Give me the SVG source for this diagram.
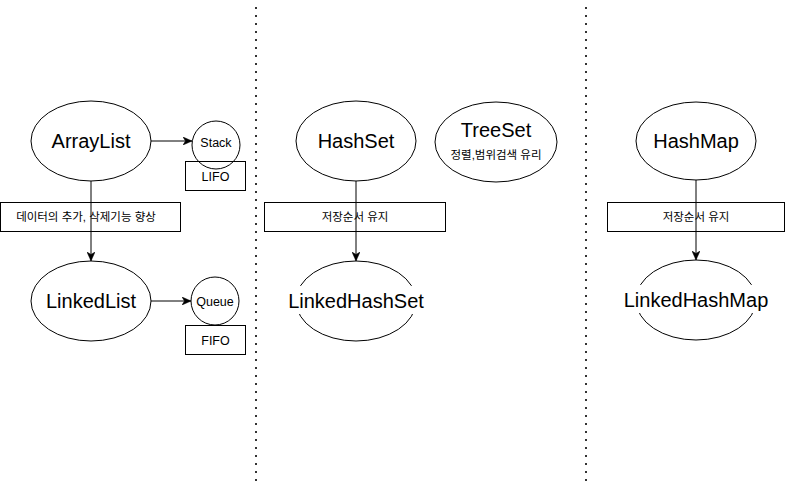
<svg xmlns="http://www.w3.org/2000/svg" width="787" height="483" viewBox="0 0 787 483">
<style>
  .sh { fill: #fff; stroke: #000; stroke-width: 1; }
  .box { fill: none; stroke: #000; stroke-width: 1; }
  .big { font-family: "Liberation Sans", Arial, sans-serif; font-size: 20px; fill: #000; text-anchor: middle; }
  .small { font-family: "Liberation Sans", Arial, sans-serif; font-size: 12.5px; fill: #000; text-anchor: middle; }
  .ko { font-family: "Liberation Sans", "Noto Sans CJK KR", sans-serif; font-size: 11.5px; fill: #000; text-anchor: middle; }
  .conn { fill: none; stroke: #000; stroke-width: 1; }
  .sep { stroke: #333; stroke-width: 2; stroke-dasharray: 2 6; fill: none; }
</style>
<defs>
  <marker id="arr" viewBox="0 0 10 8" refX="9" refY="4" markerWidth="10" markerHeight="8" markerUnits="userSpaceOnUse" orient="auto">
    <path d="M0,0 L9,4 L0,8 L2.5,4 Z" fill="#000" stroke="#000" stroke-width="0.5"/>
  </marker>
</defs>
<rect width="787" height="483" fill="#fff"/>
<g id="separators">
  <line class="sep" x1="256" y1="7" x2="256" y2="483"/>
  <line class="sep" x1="586" y1="7" x2="586" y2="483"/>
</g>
<g id="ArrayList">
  <ellipse class="sh" cx="91" cy="141" rx="60" ry="40"/>
  <text class="big" x="91" y="148">ArrayList</text>
</g>
<g id="Stack">
  <circle class="sh" cx="216" cy="145" r="24"/>
  <text class="small" x="216" y="146.5">Stack</text>
</g>
<g id="LIFO">
  <rect class="box" x="185.5" y="161.5" width="60" height="29"/>
  <text class="small" x="215.5" y="181">LIFO</text>
</g>
<g id="LinkedList">
  <ellipse class="sh" cx="91" cy="301" rx="60" ry="40"/>
  <text class="big" x="91" y="308">LinkedList</text>
</g>
<g id="Queue">
  <circle class="sh" cx="215" cy="301" r="24"/>
  <text class="small" x="215" y="306">Queue</text>
</g>
<g id="FIFO">
  <rect class="box" x="185.5" y="325.5" width="60" height="29"/>
  <text class="small" x="215.5" y="345">FIFO</text>
</g>
<g id="HashSet">
  <ellipse class="sh" cx="356" cy="141" rx="60" ry="40"/>
  <text class="big" x="356" y="148">HashSet</text>
</g>
<g id="TreeSet">
  <ellipse class="sh" cx="496" cy="142" rx="61" ry="40"/>
  <text class="big" x="496" y="137">TreeSet</text>
  <text class="ko" x="496" y="159">정렬,범위검색 유리</text>
</g>
<g id="LinkedHashSet">
  <ellipse class="sh" cx="356" cy="301" rx="60" ry="40"/>
  <rect x="288" y="286" width="136" height="28" fill="#fff"/>
  <text class="big" x="356" y="308">LinkedHashSet</text>
</g>
<g id="HashMap">
  <ellipse class="sh" cx="696" cy="141" rx="60" ry="39"/>
  <text class="big" x="696" y="148">HashMap</text>
</g>
<g id="LinkedHashMap">
  <ellipse class="sh" cx="696" cy="300" rx="60" ry="40"/>
  <rect x="624" y="285" width="144" height="28" fill="#fff"/>
  <text class="big" x="696" y="307">LinkedHashMap</text>
</g>
<g id="connectors">
  <line class="conn" x1="151" y1="141" x2="192" y2="141" marker-end="url(#arr)"/>
  <line class="conn" x1="151" y1="301" x2="191" y2="301" marker-end="url(#arr)"/>
  <line class="conn" x1="91" y1="181" x2="91" y2="261" marker-end="url(#arr)"/>
  <line class="conn" x1="356" y1="181" x2="356" y2="261" marker-end="url(#arr)"/>
  <line class="conn" x1="696" y1="180" x2="696" y2="260" marker-end="url(#arr)"/>
</g>
<g id="label-linkedlist">
  <rect class="box" x="0.5" y="202.5" width="180" height="29"/>
  <text class="ko" x="86" y="220.5">데이터의 추가, 삭제기능 향상</text>
</g>
<g id="label-linkedhashset">
  <rect class="box" x="264.5" y="202.5" width="181" height="29"/>
  <text class="ko" x="355" y="220.5">저장순서 유지</text>
</g>
<g id="label-linkedhashmap">
  <rect class="box" x="607.5" y="202.5" width="177" height="29"/>
  <text class="ko" x="696" y="220.5">저장순서 유지</text>
</g>
</svg>
